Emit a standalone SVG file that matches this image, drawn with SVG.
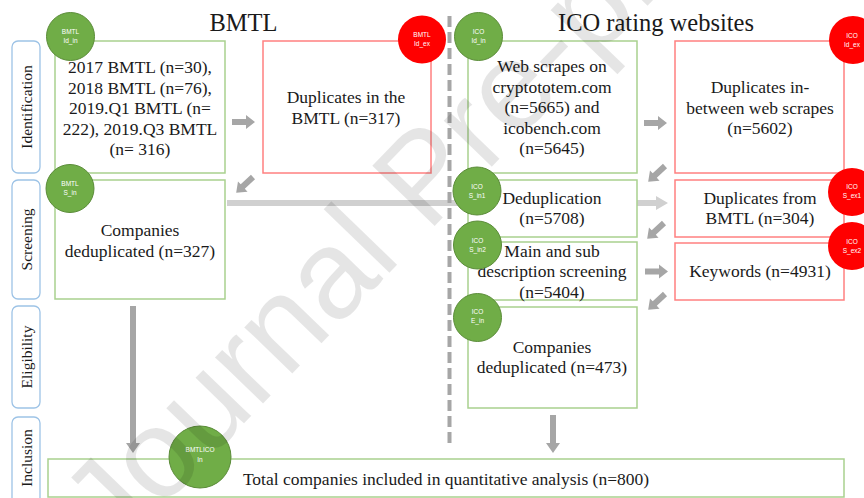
<svg xmlns="http://www.w3.org/2000/svg" width="864" height="498" viewBox="0 0 864 498">
<style>
.t{font-family:"Liberation Serif","Times New Roman",serif;font-size:17.5px;fill:#1a1a1a;text-anchor:middle}
.h{font-family:"Liberation Serif","Times New Roman",serif;font-size:24.5px;fill:#1a1a1a;text-anchor:middle}
.s{font-family:"Liberation Serif","Times New Roman",serif;font-size:15.5px;fill:#1a1a1a;text-anchor:middle}
.c{font-family:"Liberation Sans",Arial,sans-serif;font-size:6.5px;fill:#ffffff;text-anchor:middle}
.gb{fill:#ffffff;stroke:#a9d18e;stroke-width:1.5}
.rb{fill:#ffffff;stroke:#ff8080;stroke-width:1.5}
.gc{fill:#70ad47;stroke:#5b8c39;stroke-width:1}
.rc{fill:#ff0000}
.side{fill:#ffffff;stroke:#9dc3e6;stroke-width:1.3}
.ar{fill:#a6a6a6}
</style>
<defs>
<path id="arw" d="M0,-3 H14 V-7 L23,0 L14,7 V3 H0 Z"/>
</defs>
<rect width="864" height="498" fill="#ffffff"/>

<g id="phases">
<rect class="side" x="12" y="41" width="28" height="132" rx="6"/>
<text class="s" transform="translate(32,107) rotate(-90)">Identification</text>
<rect class="side" x="12" y="180" width="28" height="119" rx="6"/>
<text class="s" transform="translate(32,239.5) rotate(-90)">Screening</text>
<rect class="side" x="12" y="306" width="28" height="102" rx="6"/>
<text class="s" transform="translate(32,357) rotate(-90)">Eligibility</text>
<rect class="side" x="12" y="417" width="28" height="95" rx="6"/>
<text class="s" transform="translate(32,458) rotate(-90)">Inclusion</text>
</g>

<g id="titles">
<text class="h" x="243.5" y="31">BMTL</text>
<text class="h" x="656" y="31">ICO rating websites</text>
</g>

<g id="connectors">
<polygon fill="#d0d0d0" points="227,200 656,200 656,196 668,203 656,210 656,206 227,206"/>
</g>

<g id="bmtl_id_in">
<rect class="gb" x="55" y="41" width="170" height="132"/>
<text class="t" x="140" y="73">2017 BMTL (n=30),</text>
<text class="t" x="140" y="93.5">2018 BMTL (n=76),</text>
<text class="t" x="140" y="114">2019.Q1 BMTL (n=</text>
<text class="t" x="140" y="134.5">222), 2019.Q3 BMTL</text>
<text class="t" x="140" y="155">(n= 316)</text>
</g>
<g id="bmtl_id_ex">
<rect class="rb" x="263" y="41" width="168" height="132"/>
<text class="t" x="346" y="103">Duplicates in the</text>
<text class="t" x="346" y="123.5">BMTL (n=317)</text>
</g>
<g id="bmtl_s_in">
<rect class="gb" x="55" y="180" width="170" height="119"/>
<text class="t" x="140" y="236">Companies</text>
<text class="t" x="140" y="256.5">deduplicated (n=327)</text>
</g>
<g id="ico_id_in">
<rect class="gb" x="468" y="41" width="169" height="132"/>
<text class="t" x="552" y="72">Web scrapes on</text>
<text class="t" x="552" y="92.5">cryptototem.com</text>
<text class="t" x="552" y="113">(n=5665) and</text>
<text class="t" x="552" y="133.5">icobench.com</text>
<text class="t" x="552" y="154">(n=5645)</text>
</g>
<g id="ico_id_ex">
<rect class="rb" x="675" y="41" width="169" height="132"/>
<text class="t" x="760" y="93">Duplicates in-</text>
<text class="t" x="760" y="113.5">between web scrapes</text>
<text class="t" x="760" y="134">(n=5602)</text>
</g>
<g id="ico_s_in1">
<rect class="gb" x="468" y="180" width="169" height="57"/>
<text class="t" x="552" y="203.5">Deduplication</text>
<text class="t" x="552" y="224">(n=5708)</text>
</g>
<g id="ico_s_ex1">
<rect class="rb" x="675" y="180" width="169" height="57"/>
<text class="t" x="760" y="203.5">Duplicates from</text>
<text class="t" x="760" y="224">BMTL (n=304)</text>
</g>
<g id="ico_s_in2">
<rect class="gb" x="468" y="242" width="169" height="58"/>
<text class="t" x="552" y="256.5">Main and sub</text>
<text class="t" x="552" y="277">description screening</text>
<text class="t" x="552" y="297.5">(n=5404)</text>
</g>
<g id="ico_s_ex2">
<rect class="rb" x="675" y="243" width="169" height="57"/>
<text class="t" x="760" y="276.5">Keywords (n=4931)</text>
</g>
<g id="ico_e_in">
<rect class="gb" x="468" y="307" width="169" height="101"/>
<text class="t" x="552" y="352.5">Companies</text>
<text class="t" x="552" y="373">deduplicated (n=473)</text>
</g>
<g id="inclusion">
<rect class="gb" x="48" y="459" width="796" height="38"/>
<text class="t" x="446" y="485">Total companies included in quantitative analysis (n=800)</text>
</g>

<g id="divider">
<line x1="449.5" y1="16" x2="449.5" y2="444" stroke="#a6a6a6" stroke-width="4" stroke-dasharray="11 5"/>
</g>

<g id="connectors2">
<use href="#arw" class="ar" transform="translate(232,122)"/>
<use href="#arw" class="ar" transform="translate(644,123)"/>
<use href="#arw" class="ar" transform="translate(645,271.5)"/>
<use href="#arw" class="ar" transform="translate(253,177) rotate(137)"/>
<use href="#arw" class="ar" transform="translate(665,166) rotate(137)"/>
<use href="#arw" class="ar" transform="translate(664,223) rotate(137)"/>
<use href="#arw" class="ar" transform="translate(665,294) rotate(137)"/>
<polygon class="ar" points="130,306 136,306 136,443 140,443 133,453 126,443 130,443"/>
<polygon class="ar" points="550,415 556,415 556,443 560,443 553,453 546,443 550,443"/>
</g>

<g id="badges">
<g id="b_bmtl_id_in"><circle class="gc" cx="70.5" cy="36.5" r="24"/><text class="c" x="70.5" y="34">BMTL</text><text class="c" x="70.5" y="43">Id_in</text></g>
<g id="b_bmtl_id_ex"><circle class="rc" cx="422" cy="39.5" r="24"/><text class="c" x="422" y="37">BMTL</text><text class="c" x="422" y="46">Id_ex</text></g>
<g id="b_bmtl_s_in"><circle class="gc" cx="70" cy="188.5" r="24"/><text class="c" x="70" y="186">BMTL</text><text class="c" x="70" y="195">S_in</text></g>
<g id="b_ico_id_in"><circle class="gc" cx="478.5" cy="36.5" r="24"/><text class="c" x="478.5" y="34">ICO</text><text class="c" x="478.5" y="43">Id_in</text></g>
<g id="b_ico_id_ex"><circle class="rc" cx="853" cy="40" r="24"/><text class="c" x="852" y="37.5">ICO</text><text class="c" x="852" y="46.5">Id_ex</text></g>
<g id="b_ico_s_in1"><circle class="gc" cx="477" cy="191" r="24"/><text class="c" x="477" y="188.5">ICO</text><text class="c" x="477" y="197.5">S_in1</text></g>
<g id="b_ico_s_ex1"><circle class="rc" cx="852" cy="192" r="24"/><text class="c" x="852" y="189">ICO</text><text class="c" x="852" y="198">S_ex1</text></g>
<g id="b_ico_s_in2"><circle class="gc" cx="477.5" cy="245" r="24"/><text class="c" x="477.5" y="242.5">ICO</text><text class="c" x="477.5" y="251.5">S_in2</text></g>
<g id="b_ico_s_ex2"><circle class="rc" cx="852" cy="246" r="24"/><text class="c" x="852" y="243.5">ICO</text><text class="c" x="852" y="252.5">S_ex2</text></g>
<g id="b_ico_e_in"><circle class="gc" cx="477.5" cy="317.5" r="24"/><text class="c" x="477.5" y="314">ICO</text><text class="c" x="477.5" y="323">E_in</text></g>
<g id="b_bmtlico_in"><circle class="gc" cx="200" cy="457" r="31"/><text class="c" x="200" y="452">BMTLICO</text><text class="c" x="200" y="462">In</text></g>
</g>

<g id="watermark">
<text x="0" y="0" transform="translate(116,556) rotate(-46)" font-family="'Liberation Sans',Arial,sans-serif" font-size="126" fill="#000000" fill-opacity="0.1">Journal Pre-proof</text>
</g>
</svg>
